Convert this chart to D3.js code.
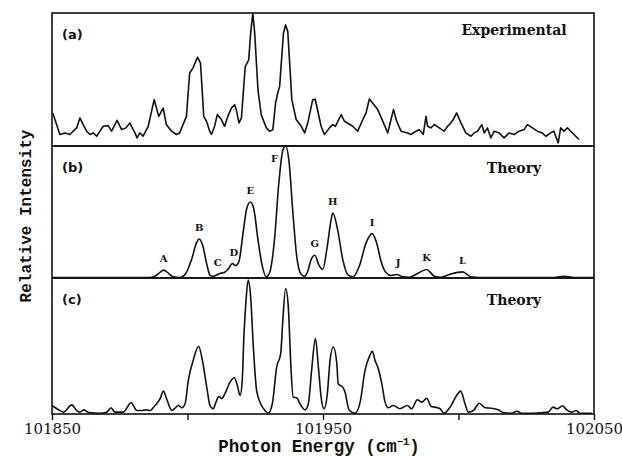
<!DOCTYPE html>
<html>
<head>
<meta charset="utf-8">
<script src="https://cdn.jsdelivr.net/npm/d3@7"></script>
<style>
  body { margin: 0; background: #fff; }
  svg { display: block; }
  .mono { font-family: "Liberation Mono", "Courier New", Courier, "Nimbus Mono PS", "DejaVu Sans Mono", monospace; }
</style>
</head>
<body>
<div class="chart-area"></div>
<script>
// spectra: [photon energy (cm-1), relative intensity 0-100]
const experimental = [
  [101850.3,24.6],[101852.9,8.3],[101854.8,9.5],[101856.6,8.3],[101857.8,10.8],[101859.1,13.3],
  [101860.3,20.8],[101861.5,15.8],[101862.8,10.8],[101864,8.3],[101865.2,9.5],[101866.5,7.0],
  [101867.7,10.8],[101868.9,14.5],[101870.7,15.0],[101872,10.8],[101874,19.0],[101875.7,12.0],
  [101877.3,13.3],[101878.7,17.0],[101880.6,9.5],[101881.4,5.8],[101882.4,9.5],[101883.6,7.0],
  [101885.5,14.5],[101887.7,34.6],[101889.4,22.0],[101891,28.3],[101892.2,15.8],[101894.1,10.8],
  [101895.9,8.3],[101897.1,9.5],[101899.6,22.0],[101900.8,54.7],[101902,58.4],[101903.7,66.7],
  [101904.8,62.2],[101906,22.0],[101907,18.3],[101908.2,10.8],[101908.8,8.3],[101910,14.5],
  [101911,23.3],[101912.5,19.6],[101913.7,14.5],[101914.9,22.0],[101916.2,28.3],[101917.4,30.8],
  [101918,27.1],[101919,17.1],[101919.9,20.8],[101921.3,59.6],[101922.6,64.7],[101923.3,84.8],
  [101924.1,99.8],[101924.8,84.8],[101926,42.1],[101927.2,23.3],[101929.1,13.3],[101930.3,10.8],
  [101931.5,12.0],[101932.5,32.1],[101933.3,39.6],[101934,44.6],[101935.4,84.8],[101936.2,91.0],
  [101937,86.0],[101938.5,34.6],[101940.1,19.6],[101942,14.5],[101943.2,9.5],[101944.4,17.1],
  [101946.2,34.6],[101947.1,35.1],[101947.7,29.6],[101949.3,14.5],[101950.5,8.3],[101952.4,13.3],
  [101953.6,15.8],[101954.6,14.5],[101956.7,23.3],[101957.9,18.3],[101961,14.5],[101962.8,10.8],
  [101964.7,19.6],[101965.9,24.6],[101967.1,35.1],[101968.3,32.1],[101970.2,27.1],[101972.6,15.8],
  [101973.9,9.5],[101975.1,19.6],[101976,27.1],[101977.2,18.3],[101978.8,10.8],[101981.2,9.5],
  [101982.5,8.3],[101984.3,10.8],[101985.5,12.0],[101987,8.3],[101988,22.0],[101988.6,14.5],
  [101989.8,13.3],[101991.1,15.8],[101992.9,13.3],[101994.7,10.8],[101996,14.5],[101997.2,17.1],
  [101998.4,20.8],[101999.3,24.6],[102000.9,17.1],[102002.7,9.5],[102004.6,7.0],[102005.8,9.5],
  [102007,10.8],[102008.6,15.8],[102009.5,9.5],[102010.7,13.3],[102011.9,5.8],[102013.2,10.8],
  [102015,9.5],[102016.8,5.8],[102018.7,9.5],[102020.5,8.3],[102022.4,10.8],[102024.2,12.0],
  [102025.4,15.8],[102027.3,13.3],[102029.1,10.8],[102030.9,9.5],[102032.2,7.0],[102034,9.5],
  [102035.2,10.8],[102036.8,2.0],[102037.7,13.3],[102038.9,10.8],[102040.2,13.3],[102041.4,10.8],
  [102042.6,8.3],[102044.5,4.5]
];

const theoryB = [
  [101850,0],[101886.1,0],[101887.3,0.3],[101889,2.5],[101891.2,5.6],[101893.1,3],[101894.7,0.5],
  [101897.1,0],[101899,2],[101901.5,13.6],[101903.3,26.3],[101904.3,29.3],[101905.7,23.7],
  [101907,11.1],[101908.4,1.5],[101909.4,1.0],[101911.9,3.0],[101913.7,4.0],[101914.9,6.1],
  [101916.6,10.6],[101917.8,9.1],[101919,12.4],[101920.5,33.9],[101921.9,52.8],[101923.2,57.4],
  [101924.4,52.8],[101926,28.8],[101927.6,8.6],[101929.1,0.5],[101930.3,3.6],[101932.1,28.8],
  [101933.7,71.8],[101935.2,97],[101936.2,100],[101937.4,89.4],[101938.9,49],[101940.3,16.1],
  [101942,2.3],[101943.2,1.0],[101944.4,4.8],[101945.6,13.6],[101947,16.9],[101948.4,9.8],
  [101949.9,6.1],[101951.4,21.2],[101952.8,41.5],[101953.6,49],[101955.4,36.4],[101957.3,13.6],
  [101959.1,2.3],[101961,0.5],[101963.4,8.6],[101965.9,26.3],[101968.1,33.4],[101969.8,26.3],
  [101971.4,12.4],[101973.3,3.6],[101975.1,1.5],[101977.2,2.3],[101979.4,0.5],[101981.9,0.2],
  [101984.9,3.0],[101988.2,6.1],[101991.1,1.0],[101993.5,0.2],[101996.6,2.3],[102001.5,4.3],
  [102004.6,0.5],[102007.6,0],[102035.3,0],[102039,1.0],[102042.6,0],[102050,0]
];

const theoryC = [
  [101850,5.9],[101852.9,2.2],[101854.2,1],[101857.3,6.4],[101859.1,2.2],[101860.3,1],[101861.8,2.7],
  [101863.4,0.7],[101867.7,0.2],[101870.2,1],[101871.8,4.2],[101873.2,1],[101876.3,1],[101879.2,7.9],
  [101881.3,2.2],[101883.1,2.2],[101884.7,2.7],[101886.2,2.2],[101888,5.9],[101889.9,10.9],
  [101891.1,16.5],[101892.3,10.9],[101894.2,2.2],[101895.4,3.9],[101896.6,5.9],[101897.9,4.2],
  [101899.1,7.2],[101900.3,24.4],[101902.1,39.2],[101904.1,49.6],[101905.6,38],[101907.1,19.5],
  [101908.3,5.9],[101909.5,3.5],[101910.5,8.4],[101911.6,12.6],[101912.6,10.9],[101913.8,14.6],
  [101915.7,23.2],[101917.3,26.4],[101918.4,20.7],[101919.4,13.3],[101920.2,24.4],[101920.8,56.5],
  [101921.6,83.6],[101922.4,98.4],[101923.3,86.1],[101924.3,49.1],[101925.5,17],[101927,7.2],
  [101928.6,2.2],[101929.8,0.2],[101931.3,7.2],[101932.9,34.3],[101934.4,44.2],[101935.1,66.4],
  [101936.2,92.3],[101937.2,78.7],[101938.1,36.8],[101939,12.1],[101940.3,11.6],[101941.5,7.2],
  [101943.4,2.7],[101944.6,7.2],[101945.8,31.8],[101947.2,55.3],[101948.3,34.3],[101949.3,12.1],
  [101950.4,3.5],[101951.6,14.6],[101952.6,39.2],[101953.8,49.1],[101955.1,36.8],[101955.6,22],
  [101957.3,19.5],[101958.1,15.8],[101959.7,2.2],[101961.8,0.2],[101963.7,8.4],[101965.5,31.8],
  [101967.3,42.9],[101968.2,45.9],[101969.2,39.2],[101970.4,33.1],[101971.7,22],[101972.9,8.4],
  [101974.1,4.2],[101975.9,5.9],[101978.4,3.5],[101981.1,5.9],[101982.7,3.5],[101984.8,10.1],
  [101986.4,8.4],[101988.3,11.3],[101989.9,5.2],[101991.3,4.7],[101993.2,3.5],[101994.6,0.2],
  [101996.9,4.7],[101999.3,13.3],[102000.8,16.5],[102002.4,7.2],[102003.6,1],[102005.5,2.2],
  [102007.7,7.6],[102009.8,4.2],[102012.2,3.9],[102014.7,2.7],[102016.5,0.7],[102019.6,0.2],
  [102021.5,1.7],[102023.3,0.2],[102027.6,0.2],[102033.1,1],[102034.9,4.7],[102036.4,3.5],
  [102038.4,5.7],[102039.9,2.7],[102041.8,1],[102043.4,2.2],[102044.8,0.2],[102049.2,0.2]
];

// peak labels of panel (b)
const peakNames    = ["A","B","C","D","E","F","G","H","I","J","K","L"];
const peakEnergies = [101891.2,101904.3,101911.2,101917.1,101923.2,101936.2,101947,101953.6,101968.1,101977.7,101988.2,102001.5];
const peakHeights  = [5.6,29.3,3,10.6,57.4,100,16.9,49,33.4,2.3,6.1,4.3];

const xTicks = [101850, 101900, 101950, 102000, 102050];
const xTickLabels = ["101850", "", "101950", "", "102050"];
const panelTags = ["(a)", "(b)", "(c)"];
const panelTitles = ["Experimental", "Theory", "Theory"];

const width = 622, height = 456;
const left = 52, right = 594;
const panels = [
  {top: 13, bottom: 146, data: experimental, curve: d3.curveLinear},
  {top: 146, bottom: 278, data: theoryB, curve: d3.curveMonotoneX},
  {top: 278, bottom: 414, data: theoryC, curve: d3.curveMonotoneX}
];

const svg = d3.select(".chart-area").append("svg")
  .attr("width", width).attr("height", height);

svg.append("rect").attr("width", width).attr("height", height).attr("fill", "#fff");

const x = d3.scaleLinear().domain([101850, 102050]).range([left, right]);

panels.forEach((p, i) => {
  const y = d3.scaleLinear().domain([0, 100]).range([p.bottom - 0.5, p.top]);
  p.y = y;

  const line = d3.line()
    .x(d => x(d[0]))
    .y(d => y(d[1]))
    .curve(p.curve);

  svg.append("path")
    .datum(p.data)
    .attr("d", line)
    .attr("fill", "none")
    .attr("stroke", "#111")
    .attr("stroke-width", 1.6)
    .attr("stroke-linejoin", "round");

  svg.append("rect")
    .attr("x", left).attr("y", p.top)
    .attr("width", right - left).attr("height", p.bottom - p.top)
    .attr("fill", "none").attr("stroke", "#111").attr("stroke-width", 1.6);

  svg.append("text")
    .attr("x", left + 10).attr("y", p.top + 26)
    .attr("font-family", "DejaVu Sans").attr("font-weight", "bold")
    .attr("font-size", 13).attr("fill", "#111")
    .text(panelTags[i]);

  svg.append("text")
    .attr("x", 514).attr("y", p.top + (i === 0 ? 22 : 27))
    .attr("text-anchor", "middle")
    .attr("font-family", "DejaVu Serif").attr("font-weight", "bold")
    .attr("font-size", 14).attr("fill", "#111")
    .text(panelTitles[i]);
});

// peak letters over panel (b)
const yb = panels[1].y;
svg.selectAll(".peak")
  .data(peakNames)
  .enter()
  .append("text")
  .attr("class", "peak")
  .attr("x", (d, i) => x(peakEnergies[i]) + (d === "F" ? -11 : 0))
  .attr("y", (d, i) => yb(peakHeights[i]) + (d === "F" ? 16 : -8))
  .attr("text-anchor", "middle")
  .attr("font-family", "DejaVu Serif").attr("font-weight", "bold")
  .attr("font-size", 10).attr("fill", "#111")
  .text(d => d);

// bottom axis
const axis = svg.append("g")
  .attr("transform", `translate(0,${panels[2].bottom})`)
  .call(d3.axisBottom(x).tickValues(xTicks).tickSize(6).tickFormat((d, i) => xTickLabels[i]));
axis.select(".domain").remove();
axis.selectAll(".tick line").attr("stroke", "#111").attr("stroke-width", 1.4);
axis.selectAll(".tick text")
  .attr("y", 20)
  .attr("dy", 0)
  .attr("font-family", "DejaVu Serif")
  .attr("font-size", 15)
  .attr("fill", "#111");

// axis titles
const xt = svg.append("text")
  .attr("class", "mono")
  .attr("x", 319).attr("y", 452)
  .attr("text-anchor", "middle")
  .attr("font-weight", "bold")
  .attr("font-size", 17.5).attr("fill", "#111");
xt.append("tspan").text("Photon Energy (cm");
xt.append("tspan").attr("font-size", 10.5).attr("dy", -7).text("\u22121");
xt.append("tspan").attr("dy", 7).text(")");

svg.append("text")
  .attr("class", "mono")
  .attr("transform", "translate(31,216) rotate(-90)")
  .attr("text-anchor", "middle")
  .attr("font-weight", "bold")
  .attr("font-size", 16).attr("fill", "#111")
  .text("Relative Intensity");
</script>
</body>
</html>
